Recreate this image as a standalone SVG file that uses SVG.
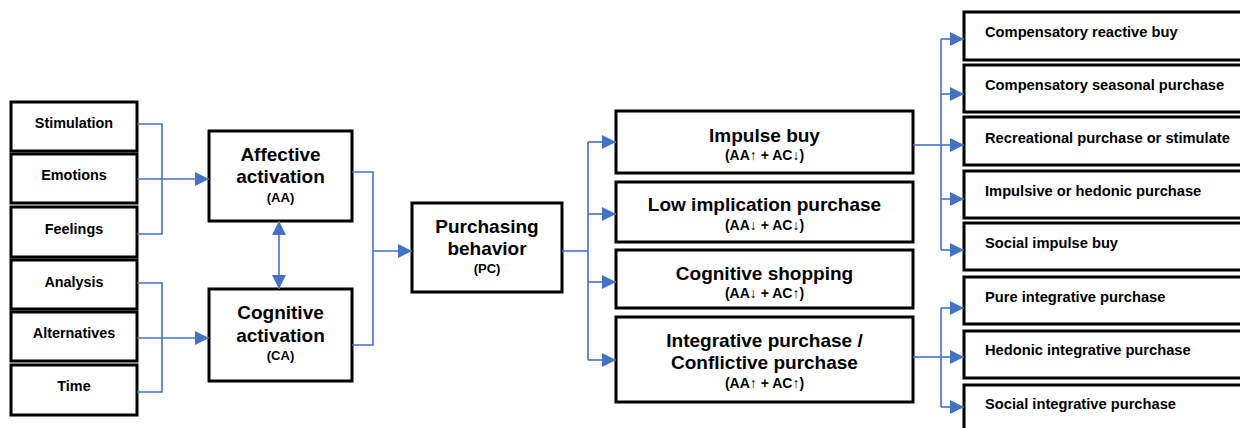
<svg xmlns="http://www.w3.org/2000/svg" width="1240" height="428" viewBox="0 0 1240 428">
  <style>
    .box { fill: #fff; stroke: #000; stroke-width: 3; }
    .lbl { font-family: "Liberation Sans", Arial, sans-serif; font-weight: bold; fill: #000; }
    .s { font-size: 14.4px; text-anchor: middle; }
    .r { font-size: 14.7px; }
    .t { font-size: 19px; text-anchor: middle; }
    .sub { font-size: 13px; text-anchor: middle; }
    .sub2 { font-size: 14px; text-anchor: middle; }
    .wire { fill: none; stroke: #4472C4; stroke-width: 1.6; }
  </style>
  <defs>
    <marker id="arr" markerUnits="userSpaceOnUse" markerWidth="15" markerHeight="14" refX="14" refY="7" orient="auto-start-reverse">
      <path d="M0,0 L14,7 L0,14 Z" fill="#4472C4"/>
    </marker>
  </defs>
  <rect width="1240" height="428" fill="#fff"/>

  <!-- input factors -->
  <g id="stimulation"><rect class="box" x="11" y="102" width="126" height="49"/><text class="lbl s" x="74" y="128">Stimulation</text></g>
  <g id="emotions"><rect class="box" x="11" y="154" width="126" height="49"/><text class="lbl s" x="74" y="180">Emotions</text></g>
  <g id="feelings"><rect class="box" x="11" y="207" width="126" height="50"/><text class="lbl s" x="74" y="234">Feelings</text></g>
  <g id="analysis"><rect class="box" x="11" y="260" width="126" height="49"/><text class="lbl s" x="74" y="287">Analysis</text></g>
  <g id="alternatives"><rect class="box" x="11" y="312" width="126" height="49"/><text class="lbl s" x="74" y="338">Alternatives</text></g>
  <g id="time"><rect class="box" x="11" y="365" width="126" height="50"/><text class="lbl s" x="74" y="391">Time</text></g>

  <!-- activations -->
  <g id="affective"><rect class="box" x="209" y="131" width="143" height="90"/>
    <text class="lbl t" x="280.5" y="161">Affective</text>
    <text class="lbl t" x="280.5" y="183">activation</text>
    <text class="lbl sub" x="280.5" y="202">(AA)</text></g>
  <g id="cognitive"><rect class="box" x="209" y="289" width="143" height="92"/>
    <text class="lbl t" x="280.5" y="319">Cognitive</text>
    <text class="lbl t" x="280.5" y="342">activation</text>
    <text class="lbl sub" x="280.5" y="360">(CA)</text></g>

  <!-- purchasing behaviour -->
  <g id="purchasing"><rect class="box" x="412" y="203" width="150" height="89"/>
    <text class="lbl t" x="487" y="233">Purchasing</text>
    <text class="lbl t" x="487" y="255">behavior</text>
    <text class="lbl sub" x="487" y="273">(PC)</text></g>

  <!-- purchase types -->
  <g id="impulse"><rect class="box" x="616" y="111" width="297" height="62"/>
    <text class="lbl t" x="764.5" y="142">Impulse buy</text>
    <text class="lbl sub2" x="764.5" y="160">(AA↑ + AC↓)</text></g>
  <g id="low-implication"><rect class="box" x="616" y="182" width="297" height="60"/>
    <text class="lbl t" x="764.5" y="211">Low implication purchase</text>
    <text class="lbl sub2" x="764.5" y="230">(AA↓ + AC↓)</text></g>
  <g id="cognitive-shopping"><rect class="box" x="616" y="250" width="297" height="58"/>
    <text class="lbl t" x="764.5" y="280">Cognitive shopping</text>
    <text class="lbl sub2" x="764.5" y="298">(AA↓ + AC↑)</text></g>
  <g id="integrative"><rect class="box" x="616" y="317" width="297" height="85"/>
    <text class="lbl t" x="764.5" y="347">Integrative purchase /</text>
    <text class="lbl t" x="764.5" y="369">Conflictive purchase</text>
    <text class="lbl sub2" x="764.5" y="388">(AA↑ + AC↑)</text></g>

  <!-- subtypes -->
  <g id="comp-reactive"><rect class="box" x="964" y="12" width="290" height="48"/><text class="lbl r" x="985" y="37">Compensatory reactive buy</text></g>
  <g id="comp-seasonal"><rect class="box" x="964" y="65" width="290" height="47"/><text class="lbl r" x="985" y="90">Compensatory seasonal purchase</text></g>
  <g id="recreational"><rect class="box" x="964" y="117" width="290" height="48"/><text class="lbl r" x="985" y="143">Recreational purchase or stimulate</text></g>
  <g id="hedonic"><rect class="box" x="964" y="171" width="290" height="47"/><text class="lbl r" x="985" y="196">Impulsive or hedonic purchase</text></g>
  <g id="social-impulse"><rect class="box" x="964" y="223" width="290" height="47"/><text class="lbl r" x="985" y="248">Social impulse buy</text></g>
  <g id="pure-integrative"><rect class="box" x="964" y="277" width="290" height="47"/><text class="lbl r" x="985" y="302">Pure integrative purchase</text></g>
  <g id="hedonic-integrative"><rect class="box" x="964" y="331" width="290" height="47"/><text class="lbl r" x="985" y="355">Hedonic integrative purchase</text></g>
  <g id="social-integrative"><rect class="box" x="964" y="385" width="290" height="60"/><text class="lbl r" x="985" y="409">Social integrative purchase</text></g>

  <!-- connectors -->
  <g id="connectors">
    <path class="wire" d="M137,124 H162 V234 H137"/>
    <path class="wire" d="M137,179 H209" marker-end="url(#arr)"/>
    <path class="wire" d="M137,283 H162 V392 H137"/>
    <path class="wire" d="M137,338 H209" marker-end="url(#arr)"/>
    <path class="wire" d="M279,221 V289" marker-start="url(#arr)" marker-end="url(#arr)"/>
    <path class="wire" d="M352,172 H373 V345 H352"/>
    <path class="wire" d="M373,251 H412" marker-end="url(#arr)"/>
    <path class="wire" d="M562,251 H588"/>
    <path class="wire" d="M588,142 V360"/>
    <path class="wire" d="M588,142 H616" marker-end="url(#arr)"/>
    <path class="wire" d="M588,214 H616" marker-end="url(#arr)"/>
    <path class="wire" d="M588,282 H616" marker-end="url(#arr)"/>
    <path class="wire" d="M588,360 H616" marker-end="url(#arr)"/>
    <path class="wire" d="M913,145 H941"/>
    <path class="wire" d="M941,39 V250"/>
    <path class="wire" d="M941,39 H964" marker-end="url(#arr)"/>
    <path class="wire" d="M941,94 H964" marker-end="url(#arr)"/>
    <path class="wire" d="M941,145 H964" marker-end="url(#arr)"/>
    <path class="wire" d="M941,199 H964" marker-end="url(#arr)"/>
    <path class="wire" d="M941,250 H964" marker-end="url(#arr)"/>
    <path class="wire" d="M913,357 H941"/>
    <path class="wire" d="M941,308 V407"/>
    <path class="wire" d="M941,308 H964" marker-end="url(#arr)"/>
    <path class="wire" d="M941,357 H964" marker-end="url(#arr)"/>
    <path class="wire" d="M941,407 H964" marker-end="url(#arr)"/>
  </g>
</svg>
